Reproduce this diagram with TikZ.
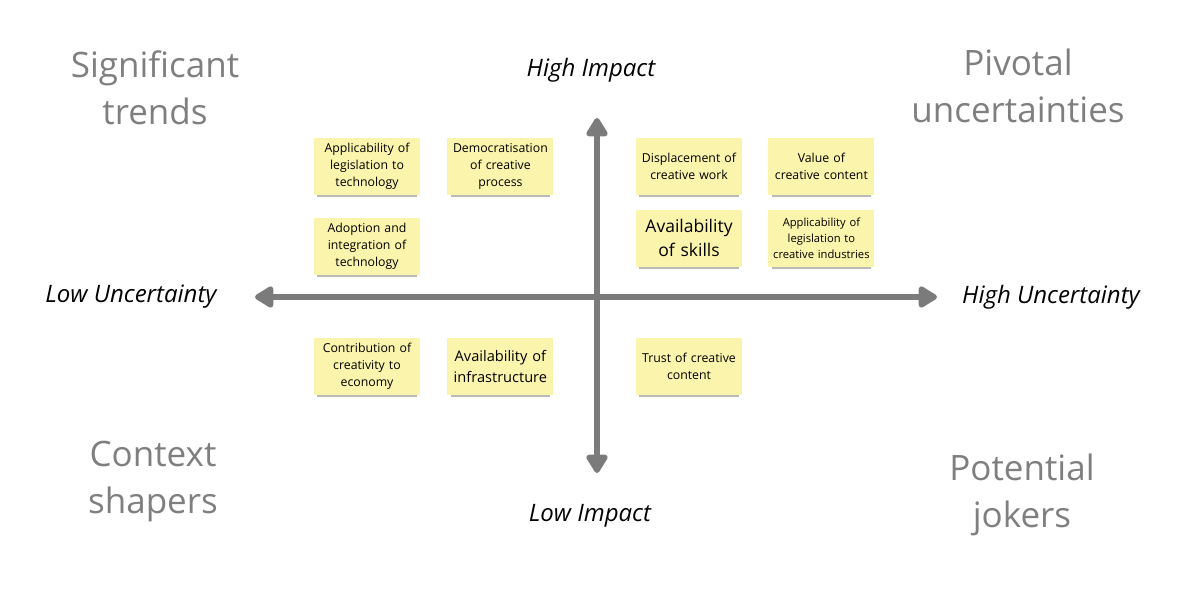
\documentclass[tikz,border=0pt]{standalone}
\usepackage{fontspec}
\setmainfont{Open Sans}
\usetikzlibrary{arrows.meta,positioning}
\usetikzlibrary{shadows}
\definecolor{noteyellow}{HTML}{FBF4AC}
\definecolor{axisgray}{HTML}{7B7B7B}
\definecolor{quadgray}{HTML}{7F7F7F}
\tikzset{
  note/.style={
    fill=noteyellow,
    inner sep=2pt,
    text width=102pt,
    minimum height=57pt,
    align=center,
    font=\fontsize{12.3}{17}\selectfont,
    drop shadow={shadow scale=0.94, shadow xshift=0pt, shadow yshift=-4pt, opacity=0.45, fill=black!60}
  },
  axis/.style={
    line width=6pt,
    draw=axisgray,
    {Triangle[width=24pt,length=21pt,round]}-{Triangle[width=24pt,length=21pt,round]}
  },
  axis label/.style={font=\fontsize{24}{28}\selectfont\itshape},
  quadrant/.style={text=quadgray, align=center, font=\fontsize{35}{47}\selectfont}
}

\begin{document}
\begin{tikzpicture}[x=1pt,y=-1pt]

  \useasboundingbox (0,0) rectangle (1200,589);

  % axes
  \coordinate (north) at (597,118);
  \coordinate (south) at (597,473);
  \coordinate (west) at (255,297);
  \coordinate (east) at (937,297);
  \draw[axis] (west) -- (east);
  \draw[axis] (south) -- (north);

  \node[axis label] (high impact) at (591,70) {High Impact};
  \node[axis label] (low impact) at (590,516) {Low Impact};
  \node[axis label] (low unc) at (131,297) {Low Uncertainty};
  \node[axis label] (high unc) at (1051,297) {High Uncertainty};

  % quadrants
  \node[quadrant] (trends) at (155,88) {Significant\\trends};
  \node[quadrant] (pivotal) at (1018,86) {Pivotal\\uncertainties};
  \node[quadrant] (context) at (153,482) {Context\\shapers};
  \node[quadrant] (jokers) at (1022,495) {Potential\\jokers};

  % notes, top left
  \node[note] (legtech) at (367,166) {Applicability of\\legislation to\\technology};
  \node[note, right=27pt of legtech] (democrat) {Democratisation\\of creative\\process};
  \node[note, below=23pt of legtech] (adopt) {Adoption and\\integration of\\technology};

  % notes, top right
  \node[note] (displace) at (689,166) {Displacement of\\creative work};
  \node[note, right=26pt of displace] (value) {Value of\\creative content};
  \node[note, below=15pt of displace, font=\fontsize{17.5}{24}\selectfont] (skills) {Availability\\of skills};
  \node[note, below=15pt of value, font=\fontsize{11.2}{16}\selectfont] (legcreative) {Applicability of\\legislation to\\creative industries};

  % notes, bottom
  \node[note] (contrib) at (367,366) {Contribution of\\creativity to\\economy};
  \node[note, right=27pt of contrib, font=\fontsize{14.6}{21}\selectfont] (infra) {Availability of\\infrastructure};
  \node[note] (trust) at (689,366) {Trust of creative\\content};

\end{tikzpicture}
\end{document}
